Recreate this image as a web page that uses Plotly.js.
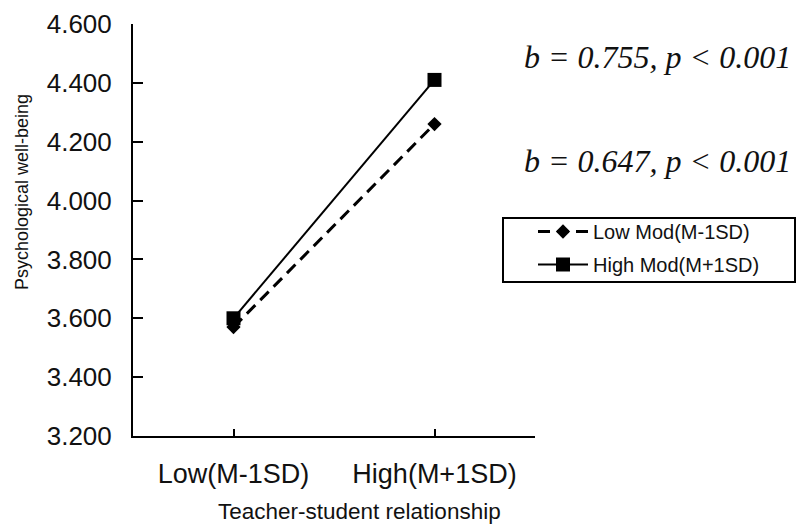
<!DOCTYPE html>
<html>
<head>
<meta charset="utf-8">
<script src="https://cdn.plot.ly/plotly-3.0.1.min.js"></script>
<style>html,body{margin:0;padding:0;background:#fff;}</style>
</head>
<body>
<div id="chart" style="width:797px;height:524px;"></div>
<script>
// Data
var categories = ["Low(M-1SD)", "High(M+1SD)"];
var catPos = [0, 1];
var lowModValues = [3.57, 4.26];
var highModValues = [3.60, 4.41];
var seriesNames = ["Low Mod(M-1SD)", "High Mod(M+1SD)"];
var yTicks = [3.2, 3.4, 3.6, 3.8, 4.0, 4.2, 4.4, 4.6];
var slopeLabels = ["b = 0.755, p < 0.001", "b = 0.647, p < 0.001"];
var xTitle = "Teacher-student relationship";
var yTitle = "Psychological well-being";

var sans = "Liberation Sans, Arial, sans-serif";
var serif = "Liberation Serif, Times New Roman, serif";
var ink = "#111";

var traces = [
  {
    x: catPos, y: lowModValues, name: seriesNames[0], type: "scatter", mode: "lines+markers",
    legendgroup: "a",
    line: {color: "#000", width: 3, dash: "12px,7px"},
    marker: {symbol: "diamond", size: 11, color: "#000"}
  },
  {
    x: catPos, y: highModValues, name: seriesNames[1], type: "scatter", mode: "lines+markers",
    legendgroup: "b",
    line: {color: "#000", width: 2},
    marker: {symbol: "square", size: 14, color: "#000"}
  }
];

var L = 133, R = 535, T = 24, B = 436;
function px(xp) { return (xp - L) / (R - L); }
function py(yp) { return (B - yp) / (B - T); }

var layout = {
  width: 797, height: 524,
  margin: {l: L, r: 797 - R, t: T, b: 524 - B, pad: 0},
  paper_bgcolor: "#fff", plot_bgcolor: "#fff",
  showlegend: true,
  font: {family: sans, color: ink},
  xaxis: {
    range: [-0.5, 1.5],
    tickmode: "array",
    tickvals: [0, 1, 1.5],
    ticktext: [categories[0], categories[1], ""],
    ticks: "inside", ticklen: 7, tickwidth: 2, tickcolor: "#000",
    showline: true, linecolor: "#000", linewidth: 2,
    showgrid: false, zeroline: false,
    tickfont: {size: 27, family: sans, color: ink},
    ticklabelstandoff: 13,
    fixedrange: true
  },
  yaxis: {
    range: [3.2, 4.6],
    tickmode: "array",
    tickvals: yTicks,
    tickformat: ".3f",
    ticks: "inside", ticklen: 10, tickwidth: 2, tickcolor: "#000",
    showline: true, linecolor: "#000", linewidth: 2,
    showgrid: false, zeroline: false,
    tickfont: {size: 26, family: sans, color: ink},
    ticklabelstandoff: 14,
    fixedrange: true
  },
  legend: {
    x: px(533), y: py(212), xanchor: "left", yanchor: "top",
    bgcolor: "rgba(0,0,0,0)", borderwidth: 0,
    font: {size: 20, family: sans, color: ink},
    itemwidth: 50,
    tracegroupgap: 4
  },
  shapes: [
    {type: "rect", xref: "paper", yref: "paper",
     x0: px(503), x1: px(795), y0: py(282), y1: py(218),
     line: {color: "#000", width: 2}, fillcolor: "rgba(0,0,0,0)"}
  ],
  annotations: [
    {text: "<i>" + slopeLabels[0].replace("<", "&lt;") + "</i>", xref: "paper", yref: "paper",
     x: px(793), y: py(57), xanchor: "right", yanchor: "middle", showarrow: false,
     font: {family: serif, size: 32, color: ink}},
    {text: "<i>" + slopeLabels[1].replace("<", "&lt;") + "</i>", xref: "paper", yref: "paper",
     x: px(793), y: py(161), xanchor: "right", yanchor: "middle", showarrow: false,
     font: {family: serif, size: 32, color: ink}},
    {text: xTitle, xref: "paper", yref: "paper",
     x: px(359), y: py(512), xanchor: "center", yanchor: "middle", showarrow: false,
     font: {family: sans, size: 22.5, color: ink}},
    {text: yTitle, xref: "paper", yref: "paper", textangle: -90,
     x: px(22), y: py(192), xanchor: "center", yanchor: "middle", showarrow: false,
     font: {family: sans, size: 18, color: ink}}
  ]
};

Plotly.newPlot("chart", traces, layout, {displayModeBar: false, staticPlot: true});
</script>
</body>
</html>
